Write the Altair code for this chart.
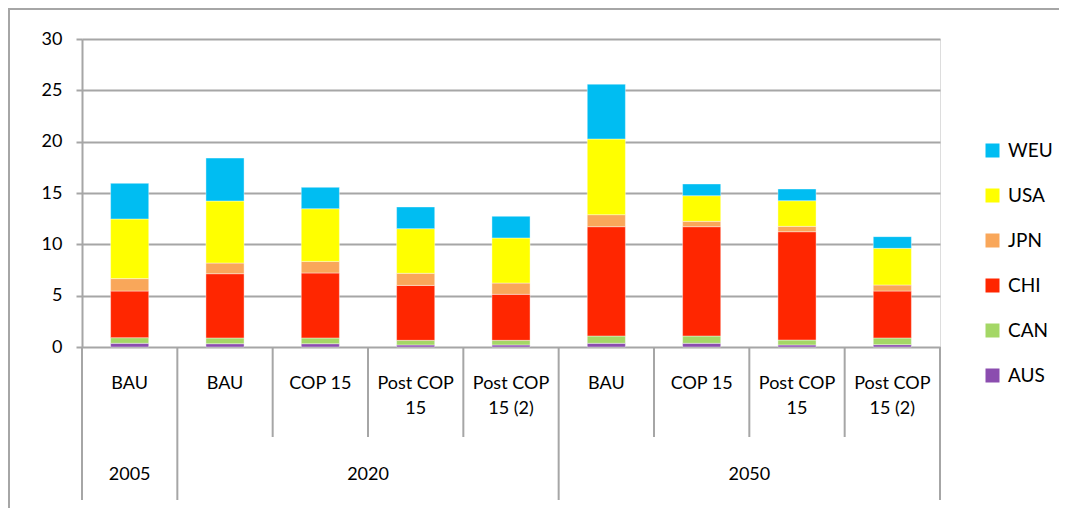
import altair as alt
import pandas as pd

regions = ["AUS", "CAN", "CHI", "JPN", "USA", "WEU"]
legend_order = ["WEU", "USA", "JPN", "CHI", "CAN", "AUS"]
colors = ["#8B4DAF", "#A4D766", "#FF2600", "#F9A75A", "#FFFF00", "#00BDF2"]
scenarios = ["BAU", "BAU", "COP 15", "Post COP\n15", "Post COP\n15 (2)",
             "BAU", "COP 15", "Post COP\n15", "Post COP\n15 (2)"]
years = ["2005", "2020", "2050"]
year_start = [0, 1, 5]
year_end = [1, 5, 9]

AUS = [0.36, 0.32, 0.32, 0.20, 0.20, 0.36, 0.36, 0.20, 0.23]
CAN = [0.55, 0.56, 0.56, 0.45, 0.45, 0.71, 0.71, 0.48, 0.65]
CHI = [4.54, 6.26, 6.33, 5.35, 4.48, 10.65, 10.65, 10.55, 4.57]
JPN = [1.21, 1.04, 1.13, 1.18, 1.10, 1.17, 0.52, 0.52, 0.59]
USA = [5.81, 6.04, 5.13, 4.35, 4.39, 7.37, 2.50, 2.50, 3.57]
WEU = [3.47, 4.18, 2.08, 2.11, 2.11, 5.34, 1.14, 1.14, 1.14]
series = {"AUS": AUS, "CAN": CAN, "CHI": CHI, "JPN": JPN, "USA": USA, "WEU": WEU}

FONT = "Lato"
GRAY = "#A6A6A6"

rows = []
for i in range(len(scenarios)):
    for k, r in enumerate(regions):
        rows.append({"idx": i, "xa": i + 0.3, "xb": i + 0.7, "region": r,
                     "ord": k, "value": series[r][i]})
bars_df = pd.DataFrame(rows)

scen_df = pd.DataFrame({"xc": [i + 0.5 for i in range(len(scenarios))],
                        "label": scenarios})
year_df = pd.DataFrame({"xc": [(a + b) / 2 for a, b in zip(year_start, year_end)],
                        "label": years})
long_bounds = sorted(set(year_start + year_end))
short_bounds = [i for i in range(len(scenarios) + 1) if i not in long_bounds]
long_df = pd.DataFrame({"xb": long_bounds})
short_df = pd.DataFrame({"xb": short_bounds})

xscale = alt.Scale(domain=[0, len(scenarios)], nice=False, zero=False)
yscale = alt.Scale(domain=[0, 30], nice=False)

bars = alt.Chart(bars_df).transform_stack(
    stack="value", groupby=["idx"], as_=["y0", "y1"],
    sort=[alt.SortField("ord", order="ascending")]
).mark_bar(stroke="white", strokeWidth=0.4).encode(
    x=alt.X("xa:Q", scale=xscale, axis=None),
    x2="xb:Q",
    y=alt.Y("y0:Q", scale=yscale,
            axis=alt.Axis(values=[0, 5, 10, 15, 20, 25, 30], title=None,
                          grid=True, gridColor=GRAY, gridWidth=2,
                          domainColor=GRAY, domainWidth=2,
                          tickColor=GRAY, tickWidth=2, tickSize=6,
                          labelFont=FONT, labelFontSize=18, labelColor="#000",
                          labelPadding=14)),
    y2="y1:Q",
    color=alt.Color("region:N",
                    scale=alt.Scale(domain=regions, range=colors),
                    sort=legend_order,
                    legend=alt.Legend(title=None, orient="none", legendX=901,
                                      legendY=102, symbolType="square",
                                      symbolSize=196, symbolStrokeWidth=0,
                                      labelFont=FONT, labelFontSize=19,
                                      labelColor="#000", rowPadding=25,
                                      labelOffset=6, values=legend_order)),
)

long_rules = alt.Chart(long_df).mark_rule(color=GRAY, strokeWidth=2).encode(
    x=alt.X("xb:Q", scale=xscale), y=alt.value(308), y2=alt.value(461))
short_rules = alt.Chart(short_df).mark_rule(color=GRAY, strokeWidth=2).encode(
    x=alt.X("xb:Q", scale=xscale), y=alt.value(308), y2=alt.value(398))

scen_text = alt.Chart(scen_df).mark_text(
    font=FONT, fontSize=18, baseline="top", align="center", lineBreak="\n",
    lineHeight=25, color="#000").encode(
    x=alt.X("xc:Q", scale=xscale), y=alt.value(336), text="label:N")
year_text = alt.Chart(year_df).mark_text(
    font=FONT, fontSize=18, baseline="middle", align="center",
    color="#000").encode(
    x=alt.X("xc:Q", scale=xscale), y=alt.value(436), text="label:N")

border = alt.Chart(pd.DataFrame({"k": [0]})).mark_rect(
    fill=None, stroke=GRAY, strokeWidth=2).encode(
    x=alt.value(-73), x2=alt.value(1200), y=alt.value(-30), y2=alt.value(700))

chart = alt.layer(border, bars, long_rules, short_rules, scen_text, year_text).properties(
    width=858, height=308,
    autosize=alt.AutoSizeParams(type="none"),
    padding={"left": 74, "top": 31, "right": 119, "bottom": 161},
).configure_view(stroke=None).configure(background="white")

chart.save("out.html", embed_options={"renderer": "svg", "actions": False})
